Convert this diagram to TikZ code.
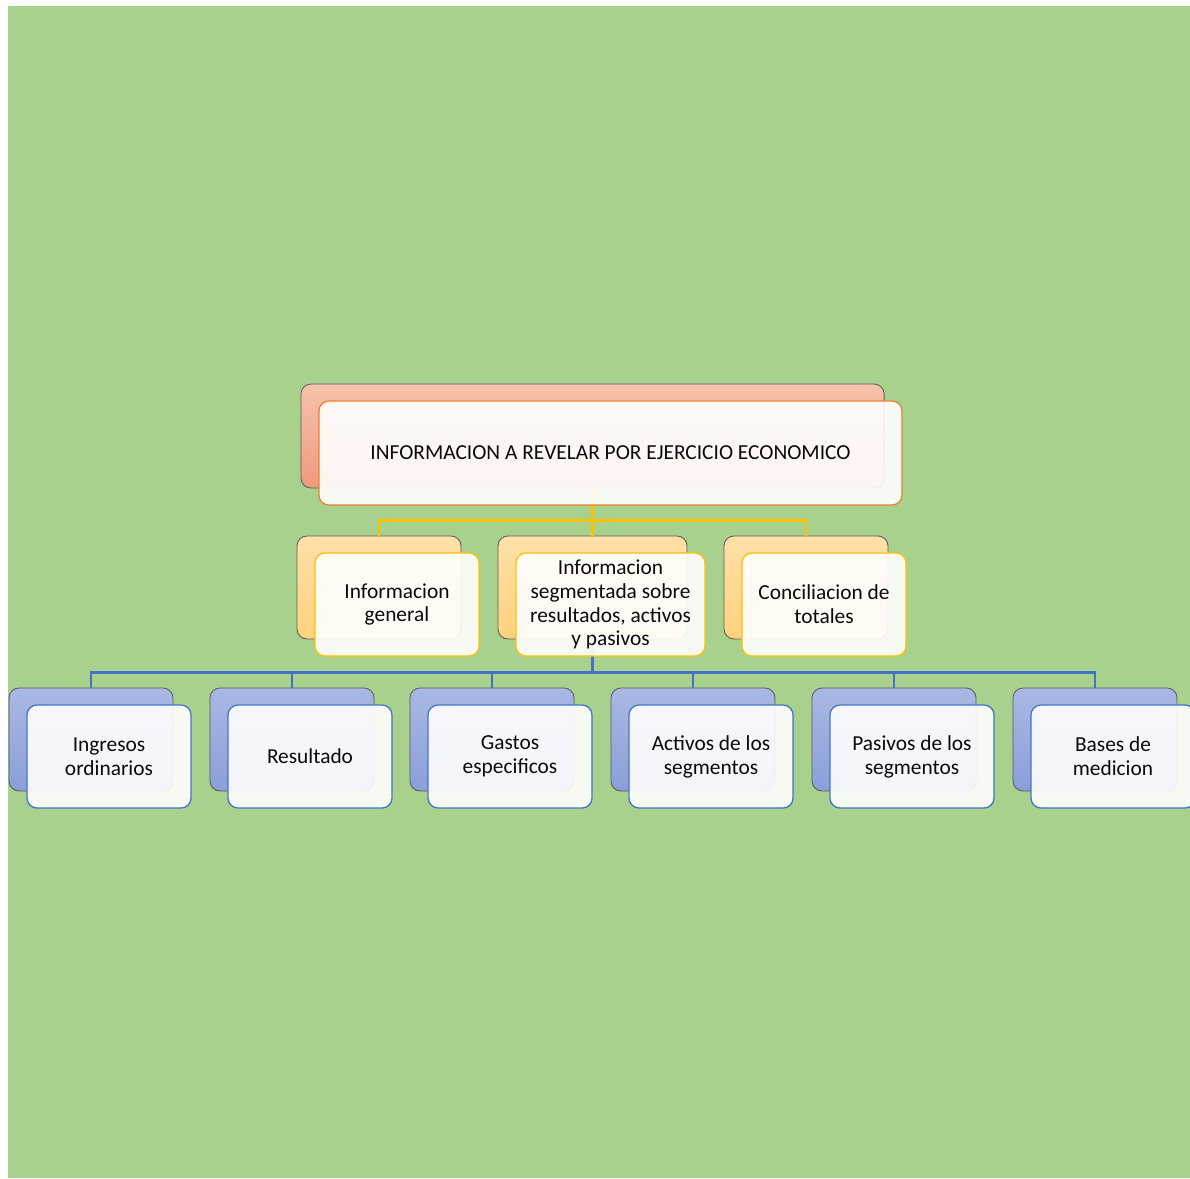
\documentclass[tikz,border=0pt]{standalone}
\usepackage{fontspec}
\setmainfont{Carlito}
\usetikzlibrary{positioning}

\definecolor{bggreen}{HTML}{A9D18E}
\definecolor{edgegray}{HTML}{5A5A5A}
\definecolor{txtblack}{HTML}{0A0A0A}
\definecolor{salmontop}{HTML}{F6C2AC}
\definecolor{salmonbot}{HTML}{F09A7E}
\definecolor{orangeline}{HTML}{ED7D31}
\definecolor{goldtop}{HTML}{FFE0A8}
\definecolor{goldbot}{HTML}{FFD27E}
\definecolor{goldline}{HTML}{FFC000}
\definecolor{bluetop}{HTML}{AAB8E3}
\definecolor{bluebot}{HTML}{8A9FD9}
\definecolor{blueline}{HTML}{4472C4}

\tikzset{
  backbox/.style={draw=edgegray, line width=0.6pt, rounded corners=0.25cm,
    inner sep=0pt, minimum width=4.1cm, minimum height=2.575cm},
  frontbox/.style={line width=0.9pt, rounded corners=0.25cm, inner sep=0pt,
    minimum width=4.1cm, minimum height=2.575cm, fill=white, fill opacity=0.9,
    text opacity=1, text=txtblack, align=center,
    font=\fontsize{15.2}{17}\selectfont},
  yline/.style={goldline, line width=2pt},
  bline/.style={blueline, line width=2pt}
}

\begin{document}
\begin{tikzpicture}[x=0.025cm, y=-0.025cm]
\fill[white] (0,0) rectangle (1190,1178);
\fill[bggreen] (8,6) rectangle (1190,1178);
\useasboundingbox (0,0) rectangle (1190,1178);

% back boxes
\node[backbox, minimum width=14.575cm, minimum height=2.6cm,
  top color=salmontop, bottom color=salmonbot] (top) at (592.5,436) {};
\node[backbox, top color=goldtop, bottom color=goldbot] (g1) at (379,587.5) {};
\node[backbox, minimum width=4.725cm, top color=goldtop, bottom color=goldbot] (g2) at (592.5,587.5) {};
\node[backbox, top color=goldtop, bottom color=goldbot] (g3) at (806,587.5) {};
\node[backbox, top color=bluetop, bottom color=bluebot] (s1) at (91,739.5) {};
\node[backbox, top color=bluetop, bottom color=bluebot] (s2) at (292,739.5) {};
\node[backbox, top color=bluetop, bottom color=bluebot] (s3) at (492,739.5) {};
\node[backbox, top color=bluetop, bottom color=bluebot] (s4) at (693,739.5) {};
\node[backbox, top color=bluetop, bottom color=bluebot] (s5) at (894,739.5) {};
\node[backbox, top color=bluetop, bottom color=bluebot] (s6) at (1095,739.5) {};

% connectors
\draw[yline] (top.south) -- ++(0,32) coordinate (ymid);
\draw[yline] (ymid) -| (g1.north);
\draw[yline] (ymid) -- (g2.north);
\draw[yline] (ymid) -| (g3.north);
\draw[bline] (g2.south) -- ++(0,33) coordinate (bmid);
\foreach \n in {s1,s2,s3,s4,s5,s6}
  \draw[bline] (bmid) -| (\n.north);

% front boxes
\node[frontbox, draw=orangeline, minimum width=14.575cm, minimum height=2.6cm]
  (topf) at ([shift={(18,17)}]top.center) {INFORMACION A REVELAR POR EJERCICIO ECONOMICO};
\node[frontbox, draw=goldline] (g1f) at ([shift={(18,17)}]g1.center) {Informacion\\general};
\node[frontbox, draw=goldline, minimum width=4.725cm] (g2f) at ([shift={(18,17)}]g2.center)
  {Informacion\\segmentada sobre\\resultados, activos\\y pasivos};
\node[frontbox, draw=goldline] (g3f) at ([shift={(18,17)}]g3.center) {Conciliacion de\\totales};
\node[frontbox, draw=blueline] (s1f) at ([shift={(18,17)}]s1.center) {Ingresos\\ordinarios};
\node[frontbox, draw=blueline] (s2f) at ([shift={(18,17)}]s2.center) {Resultado};
\node[frontbox, draw=blueline] (s3f) at ([shift={(18,17)}]s3.center) {Gastos\\especificos};
\node[frontbox, draw=blueline] (s4f) at ([shift={(18,17)}]s4.center) {Activos de los\\segmentos};
\node[frontbox, draw=blueline] (s5f) at ([shift={(18,17)}]s5.center) {Pasivos de los\\segmentos};
\node[frontbox, draw=blueline] (s6f) at ([shift={(18,17)}]s6.center) {Bases de\\medicion};
\end{tikzpicture}
\end{document}
